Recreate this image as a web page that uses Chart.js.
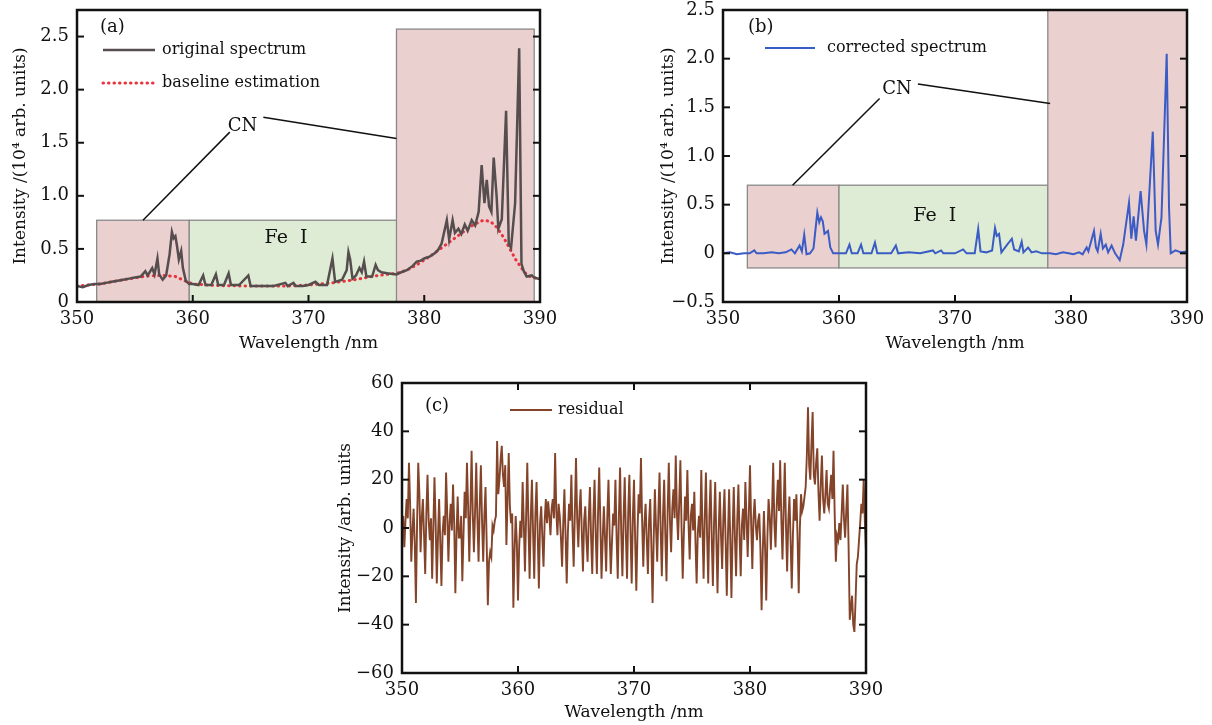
<!DOCTYPE html>
<html lang="en">
<head>
<meta charset="UTF-8">
<title>Spectrum baseline correction</title>
<script src="https://cdn.jsdelivr.net/npm/chart.js"></script>
<style>
  body { margin: 0; background: #fff; }
  #page { position: relative; width: 1212px; height: 725px; }
  .panel { position: absolute; }
</style>
</head>
<body>
<div id="page">
  <div class="panel" style="left:0;top:0"><canvas id="chartA" width="560" height="360"></canvas></div>
  <div class="panel" style="left:640px;top:0"><canvas id="chartB" width="572" height="360"></canvas></div>
  <div class="panel" style="left:320px;top:370px"><canvas id="chartC" width="580" height="355"></canvas></div>
</div>
<script>
// ---- data ----
// (a) original spectrum
const origWl = [350.0, 350.5, 351.0, 351.5, 352.0, 352.5, 353.0, 353.5, 354.0, 354.5, 355.0, 355.5,
  355.9, 356.1, 356.5, 356.7, 356.95, 357.1, 357.4, 357.7, 358.0, 358.2, 358.35, 358.5, 358.65, 358.8,
  359.0, 359.15, 359.4, 359.7, 360.0, 360.5, 360.9, 361.1, 361.6, 362.0, 362.2, 362.7, 363.1, 363.3,
  364.0, 364.8, 365.0, 366.0, 367.0, 368.0, 368.2, 368.7, 368.9, 369.5, 370.0, 370.6, 370.9, 371.6,
  372.07, 372.3, 372.9, 373.3, 373.45, 373.6, 373.8, 374.1, 374.4, 374.6, 374.8, 375.0, 375.5, 375.8,
  376.0, 376.3, 376.8, 377.6, 378.0, 378.5, 379.0, 379.35, 379.7, 380.0, 380.5, 380.9, 381.2, 381.5,
  381.95, 382.15, 382.45, 382.65, 382.95, 383.2, 383.5, 383.75, 384.1, 384.4, 384.7, 384.96, 385.2,
  385.4, 385.6, 385.8, 386.0, 386.25, 386.4, 386.7, 387.07, 387.3, 387.5, 387.85, 388.2, 388.4, 388.6,
  388.85, 389.3, 389.5, 389.86, 390.0];
const origVals = [0.15, 0.14, 0.16, 0.17, 0.17, 0.18, 0.19, 0.20, 0.21, 0.22, 0.23, 0.24,
  0.29, 0.25, 0.32, 0.26, 0.41, 0.26, 0.21, 0.25, 0.45, 0.66, 0.60, 0.62, 0.52, 0.40,
  0.48, 0.32, 0.20, 0.17, 0.17, 0.16, 0.25, 0.16, 0.16, 0.26, 0.16, 0.16, 0.27, 0.16,
  0.16, 0.25, 0.15, 0.15, 0.15, 0.18, 0.15, 0.18, 0.15, 0.15, 0.16, 0.19, 0.16, 0.16,
  0.41, 0.19, 0.21, 0.30, 0.47, 0.40, 0.22, 0.25, 0.32, 0.28, 0.38, 0.24, 0.24, 0.35,
  0.30, 0.28, 0.27, 0.26, 0.28, 0.30, 0.34, 0.38, 0.39, 0.41, 0.43, 0.46, 0.49, 0.55,
  0.77, 0.59, 0.77, 0.65, 0.69, 0.64, 0.73, 0.67, 0.77, 0.72, 0.85, 1.29, 0.93,
  1.15, 0.90, 0.85, 1.36, 1.00, 0.69, 0.78, 1.80, 0.55, 0.51, 0.93, 2.39, 0.36, 0.29,
  0.24, 0.25, 0.23, 0.22, 0.22];

// (a) baseline estimation
const baseWl = [350, 352, 354, 356, 357.5, 358.5, 359.3, 360, 362, 365, 368, 370, 372, 374, 376,
  377.6, 378.5, 379.5, 380.5, 381.5, 382.5, 383.5, 384.3, 385.1, 385.7, 386.3, 386.9, 387.4,
  387.9, 388.4, 388.9, 389.4, 390];
const baseVals = [0.15, 0.17, 0.21, 0.245, 0.25, 0.24, 0.20, 0.17, 0.155, 0.15, 0.15, 0.16, 0.18, 0.21, 0.25,
  0.27, 0.30, 0.36, 0.43, 0.51, 0.59, 0.67, 0.73, 0.77, 0.76, 0.70, 0.60, 0.50,
  0.40, 0.32, 0.25, 0.23, 0.22];

// (b) corrected spectrum
const corrWl = [350.0, 350.6, 351.2, 351.8, 352.3, 352.7, 352.9, 353.5, 354.2, 354.8, 355.4, 355.9,
  356.2, 356.6, 356.8, 357.0, 357.2, 357.5, 357.8, 358.13, 358.3, 358.45, 358.6, 358.75, 359.05,
  359.25, 359.5, 360.0, 360.6, 360.9, 361.1, 361.6, 361.9, 362.1, 362.8, 363.1, 363.3, 364.5,
  364.9, 365.1, 366.0, 367.0, 368.1, 368.3, 368.8, 369.0, 370.0, 370.7, 371.0, 371.7, 372.0,
  372.2, 372.7, 373.2, 373.45, 373.6, 373.8, 374.0, 374.5, 374.9, 375.1, 375.5, 375.75, 375.9,
  376.3, 376.6, 377.0, 377.5, 378.2, 378.7, 379.3, 379.8, 380.2, 380.7, 381.0, 381.35, 381.5,
  381.98, 382.15, 382.3, 382.56, 382.75, 383.0, 383.2, 383.5, 383.8, 384.2, 384.5, 385.0, 385.2,
  385.4, 385.6, 386.0, 386.3, 386.5, 387.05, 387.3, 387.5, 387.8, 388.25, 388.45, 388.6, 389.0,
  389.5, 390.0];
const corrVals = [0.0, 0.01, -0.01, 0.0, 0.0, 0.03, 0.0, 0.0, 0.01, 0.0, 0.01, 0.04,
  0.0, 0.08, 0.02, 0.19, -0.01, 0.0, 0.05, 0.42, 0.32, 0.37, 0.33, 0.20, 0.23,
  0.06, 0.0, 0.0, 0.0, 0.09, 0.0, 0.0, 0.09, 0.0, 0.0, 0.11, 0.0, 0.0,
  0.08, 0.0, 0.01, 0.0, 0.03, 0.0, 0.03, 0.0, 0.0, 0.04, 0.0, 0.0, 0.25,
  0.02, 0.01, 0.03, 0.26, 0.18, 0.20, 0.01, 0.09, 0.15, 0.04, 0.02, 0.12, 0.01,
  0.06, 0.01, 0.02, 0.0, 0.0, -0.01, 0.01, 0.0, -0.01, 0.01, -0.01, 0.06, 0.02,
  0.23, 0.06, 0.02, 0.20, 0.05, 0.09, 0.01, 0.08, 0.0, -0.07, 0.09, 0.52, 0.15,
  0.38, 0.13, 0.64, 0.23, 0.09, 1.25, 0.23, 0.09, 0.37, 2.05, 0.47, 0.0, 0.03,
  0.01, 0.02];

// (c) residual, sampled every 0.1 nm from 350 nm
const resStart = 350;
const resStep = 0.1;
const resVals = [
  0, 5, -8, 3, 12, 4, 27, 10, -14, -2, 8, -6, -31, 2, 27, 14, -10, 4, 12, -3,
  -19, 6, 22, 3, -5, 4, -21, 0, 21, 2, -23, -4, 12, -6, -24, -2, 5, -3, 23, 6,
  -14, 2, 10, -1, 18, 2, -27, -3, 13, -4, -4, 5, -22, -3, 15, 4, 27, 9, -14, 8,
  32, 6, -10, 7, 27, 4, -14, 9, 26, 3, -14, 5, 17, -6, -32, -14, -10, -12, 1, -1,
  3, 5, 36, 14, 20, 28, 34, 22, 17, 26, -7, 12, 31, 9, 2, 6, -33, -10, 5, -6,
  -30, -8, 3, -4, 19, 2, -18, 5, 27, 2, -21, 4, 20, -2, -21, 6, 19, -3, -25, 2,
  9, -4, -16, 3, 12, 2, 11, 5, -3, 8, 12, 4, 31, 7, -3, 10, 5, -4, -16, 2,
  16, -3, -23, -2, 10, 3, 22, 0, -16, 6, 29, 4, -8, 7, 16, -2, -18, 3, 9, -5,
  -14, 4, 17, -4, -19, 5, 20, -3, -19, 6, 25, 2, -21, -5, 9, -4, -18, 5, 20, -2,
  -19, -6, 6, 1, 20, -4, -21, 5, 25, -2, -20, 4, 21, -3, -21, 6, 22, -2, -23, 4,
  20, -5, -26, -2, 14, 6, 29, 3, -16, 2, 10, -5, -19, 3, 12, -8, -31, -4, 16, 0,
  -14, 6, 23, -1, -20, 5, 20, -3, -22, 7, 27, 3, -10, 8, 16, 4, 30, 6, -5, 11,
  28, 0, -21, -2, 13, 3, 24, 2, -13, 5, 10, -1, 15, -6, -23, -2, 5, -4, 24, 1,
  -21, 4, 23, -3, -23, 5, 20, -4, -24, 2, 19, -5, -27, -1, 15, -3, -17, 4, 16, -6,
  -28, -3, 16, -5, -29, -2, 17, -4, -20, 3, 18, -3, -20, 1, 8, -5, 19, 4, -12, 6,
  26, 2, -17, 4, 12, 1, -5, 3, 6, -9, -34, -10, 7, -8, -30, -4, 12, 5, -9, 7,
  27, 2, -8, 9, 20, 7, 28, 4, -13, 8, 27, 1, -18, 3, 13, -5, -25, -3, 12, 3,
  14, -4, -27, 0, 14, 7, 9, 13, 17, 30, 50, 26, 20, 35, 48, 22, 18, 27, 33, 15,
  3, 18, 30, 12, 6, 14, 24, 10, 8, 16, 22, 12, 32, 6, -14, -3, -5, 2, -5, 6,
  18, 4, -4, 7, 18, -8, -38, -33, -28, -40, -43, -30, -15, -12, -5, 2, 10, 6, 20, 3,
  -10];

// shaded regions: [from nm, to nm, bottom, top, kind]
const regionsA = [[351.7, 359.7, 0, 0.77, 'CN'], [359.7, 377.8, 0, 0.77, 'Fe'], [377.6, 389.5, 0, 2.57, 'CN']];
const regionsB = [[352.1, 360.0, -0.15, 0.70, 'CN'], [360.0, 378.0, -0.15, 0.70, 'Fe'], [378.0, 390.0, -0.15, 2.5, 'CN']];
// CN label anchor and leader lines, Fe label anchor (data units)
const cnLabelA = [364.3, 1.65];
const cnLinesA = [[363.2, 1.60, 355.7, 0.77], [366.1, 1.74, 377.6, 1.54]];
const feLabelA = [366.2, 0.60];
const cnLabelB = [365.0, 1.69];
const cnLinesB = [[363.5, 1.59, 356.0, 0.70], [366.8, 1.74, 378.2, 1.54]];
const feLabelB = [366.4, 0.38];

// ---- drawing ----
const FONT = '"DejaVu Serif", serif';
Chart.defaults.font.family = FONT;
Chart.defaults.color = '#111';

function pts(xs, ys) {
  return xs.map((w, i) => ({ x: w, y: ys[i] }));
}

function fmt(v, dec) {
  if (Math.abs(v) < 1e-9) return '0';
  return (v < 0 ? '\u2212' : '') + Math.abs(v).toFixed(dec);
}

function seg(ctx, x0, y0, x1, y1) {
  ctx.beginPath();
  ctx.moveTo(x0, y0);
  ctx.lineTo(x1, y1);
  ctx.stroke();
}

// shaded boxes under the lines, frame/ticks/labels/legend on top
const deco = {
  id: 'deco',
  beforeDatasetsDraw(chart, args, o) {
    const { ctx, scales: { x, y } } = chart;
    ctx.save();
    (o.regions || []).forEach(([x0, x1, y0, y1, kind]) => {
      const l = x.getPixelForValue(x0), r = x.getPixelForValue(x1);
      const t = y.getPixelForValue(y1), b = y.getPixelForValue(y0);
      ctx.fillStyle = kind === 'CN' ? '#ebd0d0' : '#deecd5';
      ctx.fillRect(l, t, r - l, b - t);
      ctx.strokeStyle = '#8a8a8a';
      ctx.lineWidth = 1.3;
      ctx.strokeRect(l, t, r - l, b - t);
    });
    ctx.restore();
  },
  afterDraw(chart, args, o) {
    const { ctx, chartArea: a, scales: { x, y } } = chart;
    ctx.save();
    ctx.fillStyle = '#111';
    ctx.textBaseline = 'middle';

    if (o.cnLines) {
      ctx.strokeStyle = '#111';
      ctx.lineWidth = 1.5;
      o.cnLines.forEach(([x0, y0, x1, y1]) => seg(ctx,
        x.getPixelForValue(x0), y.getPixelForValue(y0), x.getPixelForValue(x1), y.getPixelForValue(y1)));
      ctx.font = '18px ' + FONT;
      ctx.textAlign = 'center';
      ctx.fillText('CN', x.getPixelForValue(o.cnLabel[0]), y.getPixelForValue(o.cnLabel[1]));
    }
    if (o.feLabel) {
      ctx.font = '19px ' + FONT;
      ctx.textAlign = 'left';
      ctx.fillText('Fe  I', x.getPixelForValue(o.feLabel[0]), y.getPixelForValue(o.feLabel[1]));
    }

    // axis box with inward ticks
    ctx.strokeStyle = '#111';
    ctx.lineWidth = 2.5;
    ctx.strokeRect(a.left, a.top, a.right - a.left, a.bottom - a.top);
    ctx.lineWidth = 2;
    const L = 7;
    x.ticks.forEach(t => {
      if (t.value <= x.min || t.value >= x.max) return;
      const px = x.getPixelForValue(t.value);
      seg(ctx, px, a.bottom, px, a.bottom - L);
      if (o.topTicks) seg(ctx, px, a.top, px, a.top + L);
    });
    y.ticks.forEach(t => {
      if (t.value <= y.min || t.value >= y.max) return;
      const py = y.getPixelForValue(t.value);
      seg(ctx, a.left, py, a.left + L, py);
      seg(ctx, a.right, py, a.right - L, py);
    });

    // legend
    const lg = o.legend;
    ctx.textAlign = 'left';
    ctx.font = lg.size + 'px ' + FONT;
    chart.data.datasets.forEach((ds, i) => {
      const lx = a.left + lg.x;
      const ly = a.top + lg.y + i * lg.gap;
      ctx.strokeStyle = ds.borderColor;
      ctx.lineWidth = ds.borderWidth;
      ctx.lineCap = ds.borderCapStyle || 'butt';
      ctx.setLineDash(ds.borderDash || []);
      seg(ctx, lx, ly, lx + lg.len, ly);
      ctx.setLineDash([]);
      ctx.lineCap = 'butt';
      ctx.fillText(ds.label, lx + lg.len + lg.textGap, ly);
    });

    // panel tag
    ctx.font = '18px ' + FONT;
    ctx.fillText(o.tag, a.left + o.tagAt[0], a.top + o.tagAt[1]);
    ctx.restore();
  }
};

function makePanel(id, p) {
  return new Chart(document.getElementById(id), {
    type: 'line',
    data: { datasets: p.datasets },
    options: {
      responsive: false,
      animation: false,
      events: [],
      layout: { padding: p.pad },
      elements: { point: { radius: 0 }, line: { tension: 0 } },
      plugins: { legend: { display: false }, tooltip: { enabled: false }, deco: p.deco },
      scales: {
        x: {
          type: 'linear', min: 350, max: 390,
          grid: { display: false, drawTicks: false }, border: { display: false },
          ticks: { stepSize: 10, padding: 7, maxRotation: 0, font: { size: 18 }, color: '#111' },
          title: { display: true, text: 'Wavelength /nm', color: '#111', font: { size: 17 },
                   padding: { top: 0, bottom: p.xTitlePad } },
          // fixed band height; label overhang is already covered by the layout padding
          afterFit: s => { s.height = p.xHeight; s.paddingLeft = 0; s.paddingRight = 0; }
        },
        y: {
          type: 'linear', min: p.yMin, max: p.yMax,
          grid: { display: false, drawTicks: false }, border: { display: false },
          ticks: { stepSize: p.yStep, includeBounds: false, padding: 8, font: { size: 18 }, color: '#111',
                   callback: v => fmt(v, p.dec) },
          title: { display: true, text: p.yTitle, color: '#111', font: { size: 17 },
                   padding: { top: p.yTitlePad, bottom: 0 } },
          afterFit: s => { s.width = p.yWidth; s.paddingTop = 0; s.paddingBottom = 0; }
        }
      }
    },
    plugins: [deco]
  });
}

makePanel('chartA', {
  datasets: [
    { label: 'original spectrum', data: pts(origWl, origVals), borderColor: '#564d4e', borderWidth: 2.5 },
    { label: 'baseline estimation', data: pts(baseWl, baseVals), borderColor: '#e8323c', borderWidth: 3,
      borderDash: [0.5, 5], borderCapStyle: 'round' }
  ],
  pad: { top: 10, right: 20, left: 0, bottom: 0 },
  xHeight: 58, xTitlePad: 6, yWidth: 77, yTitlePad: 10,
  yMin: 0, yMax: 2.75, yStep: 0.5, dec: 1,
  yTitle: 'Intensity /(10\u2074 arb. units)',
  deco: {
    regions: regionsA, cnLines: cnLinesA, cnLabel: cnLabelA, feLabel: feLabelA,
    legend: { x: 26, y: 40, gap: 33, len: 52, textGap: 7, size: 16 },
    tag: '(a)', tagAt: [23, 17]
  }
});

makePanel('chartB', {
  datasets: [
    { label: 'corrected spectrum', data: pts(corrWl, corrVals), borderColor: '#3a5cc4', borderWidth: 2 }
  ],
  pad: { top: 10, right: 25, left: 0, bottom: 0 },
  xHeight: 58, xTitlePad: 6, yWidth: 83, yTitlePad: 18,
  yMin: -0.5, yMax: 2.5, yStep: 0.5, dec: 1,
  yTitle: 'Intensity /(10\u2074 arb. units)',
  deco: {
    regions: regionsB, cnLines: cnLinesB, cnLabel: cnLabelB, feLabel: feLabelB,
    legend: { x: 42, y: 38, gap: 33, len: 50, textGap: 12, size: 16 },
    tag: '(b)', tagAt: [25, 17]
  }
});

makePanel('chartC', {
  datasets: [
    { label: 'residual', data: resVals.map((v, i) => ({ x: resStart + i * resStep, y: v })),
      borderColor: '#84442a', borderWidth: 1.9 }
  ],
  pad: { top: 13, right: 34, left: 0, bottom: 0 },
  xHeight: 52, xTitlePad: 2, yWidth: 82, yTitlePad: 15,
  yMin: -60, yMax: 60, yStep: 20, dec: 0,
  yTitle: 'Intensity /arb. units',
  deco: {
    topTicks: true,
    legend: { x: 108, y: 27, gap: 30, len: 42, textGap: 6, size: 16 },
    tag: '(c)', tagAt: [23, 23]
  }
});
</script>
</body>
</html>
